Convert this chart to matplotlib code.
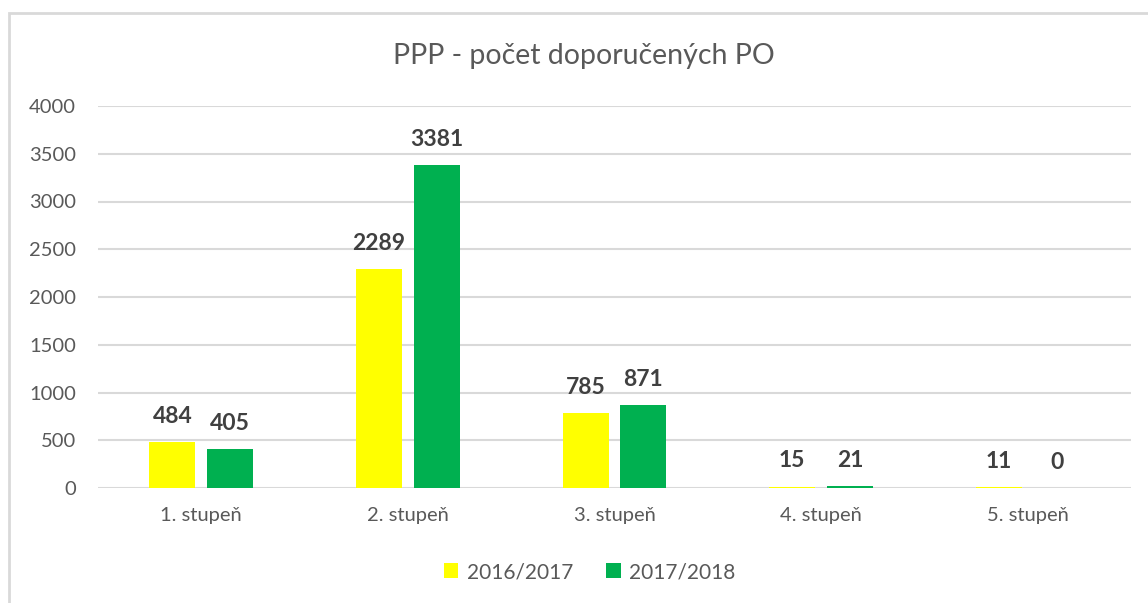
import matplotlib.pyplot as plt
import numpy as np
from matplotlib.patches import Rectangle

# Počet doporučených podpůrných opatření podle stupně
stupne = ["1. stupeň", "2. stupeň", "3. stupeň", "4. stupeň", "5. stupeň"]
rok_2016 = [484, 2289, 785, 15, 11]
rok_2017 = [405, 3381, 871, 21, 0]
roky = ["2016/2017", "2017/2018"]
barvy = ["#FFFF00", "#00B050"]

plt.rcParams['font.family'] = ['Lato', 'DejaVu Sans']

fig = plt.figure(figsize=(11.48, 6.03), dpi=100)
ax = fig.add_axes([98 / 1148, 1 - 488 / 603, (1131 - 98) / 1148, (488 - 106) / 603])

# rámeček grafu (spodní a pravá hrana jsou mimo obrázek)
fig.patches.append(Rectangle((9 / 1148, -0.05), 1.2, 1 - 13 / 603 + 0.05,
                             transform=fig.transFigure, fill=False,
                             edgecolor="#D9D9D9", linewidth=2))

x = np.arange(len(stupne))
w = 0.222
off = 0.14
b1 = ax.bar(x - off, rok_2016, w, color=barvy[0], label=roky[0], zorder=3)
b2 = ax.bar(x + off, rok_2017, w, color=barvy[1], label=roky[1], zorder=3)

for bars in (b1, b2):
    for r in bars:
        ax.annotate(f"{int(r.get_height())}", (r.get_x() + r.get_width() / 2, r.get_height()),
                    xytext=(0, 11), textcoords="offset points", ha="center", va="bottom",
                    fontsize=16.5, fontweight="bold", color="#404040")

ax.set_xlim(-0.5, len(stupne) - 0.5)
ax.set_ylim(0, 4000)
ax.set_yticks(np.arange(0, 4001, 500))
ax.set_xticks(x)
ax.set_xticklabels(stupne)
ax.grid(axis="y", color="#D9D9D9", linewidth=1.5, zorder=0)
for s in ax.spines.values():
    s.set_visible(False)
ax.tick_params(length=0, labelsize=14.5, colors="#595959")
ax.tick_params(axis="x", pad=14)
ax.tick_params(axis="y", pad=16)

fig.text(584 / 1148, 1 - 56 / 603, "PPP - počet doporučených PO", ha="center", va="center",
         fontsize=20.5, color="#595959")

ax.legend(loc="center", bbox_to_anchor=(0.476, -0.22), ncol=2, frameon=False,
          fontsize=15, labelcolor="#595959", handlelength=0.7, handleheight=0.7,
          handletextpad=0.4, columnspacing=1.6)

fig.savefig("out.png", dpi=100, facecolor="white")
